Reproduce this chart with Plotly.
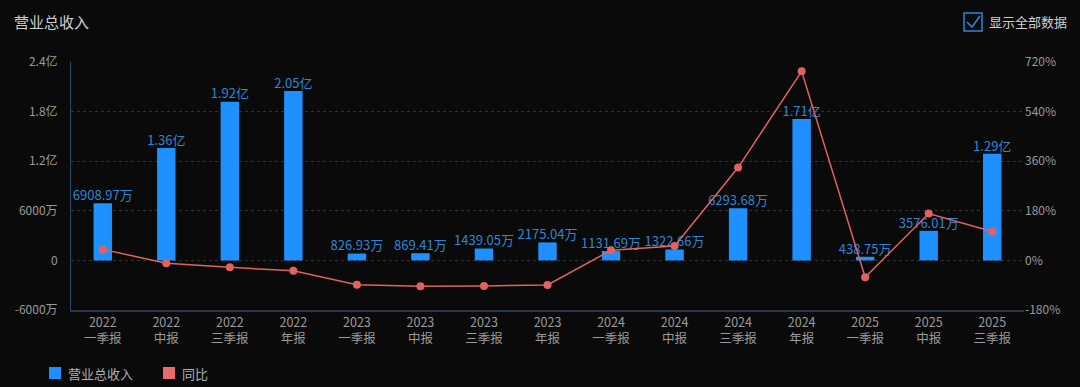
import plotly.graph_objects as go

categories = ["2022<br>一季报", "2022<br>中报", "2022<br>三季报", "2022<br>年报",
              "2023<br>一季报", "2023<br>中报", "2023<br>三季报", "2023<br>年报",
              "2024<br>一季报", "2024<br>中报", "2024<br>三季报", "2024<br>年报",
              "2025<br>一季报", "2025<br>中报", "2025<br>三季报"]
revenue = [69089700, 136000000, 192000000, 205000000,
           8269300, 8694100, 14390500, 21750400,
           11316900, 13226600, 62936800, 171000000,
           4387500, 35760100, 129000000]
revenue_labels = ["6908.97万", "1.36亿", "1.92亿", "2.05亿",
                  "826.93万", "869.41万", "1439.05万", "2175.04万",
                  "1131.69万", "1322.66万", "6293.68万", "1.71亿",
                  "438.75万", "3576.01万", "1.29亿"]
yoy = [40, -10, -25, -38, -88, -93.6, -92.5, -89.4,
       36.9, 52.1, 337, 686, -61.2, 170, 105]
left_ticks = [-60000000, 0, 60000000, 120000000, 180000000, 240000000]
left_ticktext = ["-6000万", "0", "6000万", "1.2亿", "1.8亿", "2.4亿"]
right_ticks = [-180, 0, 180, 360, 540, 720]
right_ticktext = ["-180%", "0%", "180%", "360%", "540%", "720%"]

FONT = "Noto Sans CJK SC"
BLUE = "#1E90FF"
LABEL_BLUE = "#2F86D8"
RED = "#E0635E"
GRAY = "#9A9A9A"

fig = go.Figure()
fig.add_trace(go.Bar(
    x=categories, y=revenue, name="营业总收入",
    marker=dict(color=BLUE, line=dict(width=0)),
    width=0.29, showlegend=False, hoverinfo="x+y",
))
fig.add_trace(go.Scatter(
    x=categories, y=revenue, mode="text", text=revenue_labels,
    textposition="top center", cliponaxis=False,
    textfont=dict(color=LABEL_BLUE, size=13, family=FONT),
    showlegend=False, hoverinfo="skip",
))
fig.add_trace(go.Scatter(
    x=categories, y=yoy, name="同比", yaxis="y2", mode="lines+markers",
    line=dict(color=RED, width=1.5),
    marker=dict(color=RED, size=8),
    showlegend=False,
))

fig.update_layout(
    width=1080, height=387,
    paper_bgcolor="#0A0A0A", plot_bgcolor="#0A0A0A",
    margin=dict(l=71, r=56, t=62, b=77),
    font=dict(family=FONT, color=GRAY, size=12),
    xaxis=dict(
        range=[-0.5, len(categories) - 0.5],
        showgrid=False, showline=True, linecolor="#2A3644", linewidth=2,
        ticks="", tickfont=dict(size=12.5, color=GRAY, family=FONT),
        fixedrange=True,
    ),
    yaxis=dict(
        range=[-60000000, 240000000], tickvals=left_ticks, ticktext=left_ticktext,
        showgrid=True, gridcolor="#333333", griddash="dot", gridwidth=1,
        zeroline=False, showline=True, linecolor="#2A4A6A", linewidth=1,
        tickfont=dict(size=12, color=GRAY, family=FONT), ticklen=0,
        ticklabelstandoff=10,
    ),
    yaxis2=dict(
        range=[-180, 720], tickvals=right_ticks, ticktext=right_ticktext,
        overlaying="y", side="right", showgrid=False, zeroline=False,
        showline=False, tickfont=dict(size=12, color=GRAY, family=FONT),
    ),
)

# Title
fig.add_annotation(text="营业总收入", xref="paper", yref="paper",
                   x=(12-71)/953, y=1 + (62-21)/248, xanchor="left", yanchor="middle",
                   showarrow=False, font=dict(size=15, color="#D0D0D0", family=FONT))

# Checkbox top-right
fig.add_shape(type="rect", xref="paper", yref="paper",
              x0=(964-71)/953, x1=(982-71)/953,
              y0=1 + (62-31)/248, y1=1 + (62-13)/248,
              line=dict(color="#2F86D8", width=1.5), fillcolor="rgba(0,0,0,0)")
fig.add_shape(type="path", xref="paper", yref="paper",
              path="M {:.4f},{:.4f} L {:.4f},{:.4f} L {:.4f},{:.4f}".format(
                  (967-71)/953, 1 + (62-22)/248,
                  (972-71)/953, 1 + (62-27)/248,
                  (980-71)/953, 1 + (62-16)/248),
              line=dict(color="#2F86D8", width=1.5))
fig.add_annotation(text="显示全部数据", xref="paper", yref="paper",
                   x=(987-71)/953, y=1 + (62-22)/248, xanchor="left", yanchor="middle",
                   showarrow=False, font=dict(size=13, color="#D0D0D0", family=FONT))

# Bottom legend
fig.add_shape(type="rect", xref="paper", yref="paper",
              x0=(49-71)/953, x1=(61-71)/953,
              y0=-(367-310)/248 - 12/248, y1=-(367-310)/248,
              line=dict(width=0), fillcolor=BLUE)
fig.add_annotation(text="营业总收入", xref="paper", yref="paper",
                   x=(66-71)/953, y=-(373-310)/248, xanchor="left", yanchor="middle",
                   showarrow=False, font=dict(size=13, color="#B0B0B0", family=FONT))
fig.add_shape(type="rect", xref="paper", yref="paper",
              x0=(163-71)/953, x1=(175-71)/953,
              y0=-(367-310)/248 - 12/248, y1=-(367-310)/248,
              line=dict(width=0), fillcolor="#E86A6A")
fig.add_annotation(text="同比", xref="paper", yref="paper",
                   x=(180-71)/953, y=-(373-310)/248, xanchor="left", yanchor="middle",
                   showarrow=False, font=dict(size=13, color="#B0B0B0", family=FONT))

fig.write_html("out.html", config={"displayModeBar": False},
               post_script="document.body.style.margin='0';document.body.style.background='#0A0A0A';")
